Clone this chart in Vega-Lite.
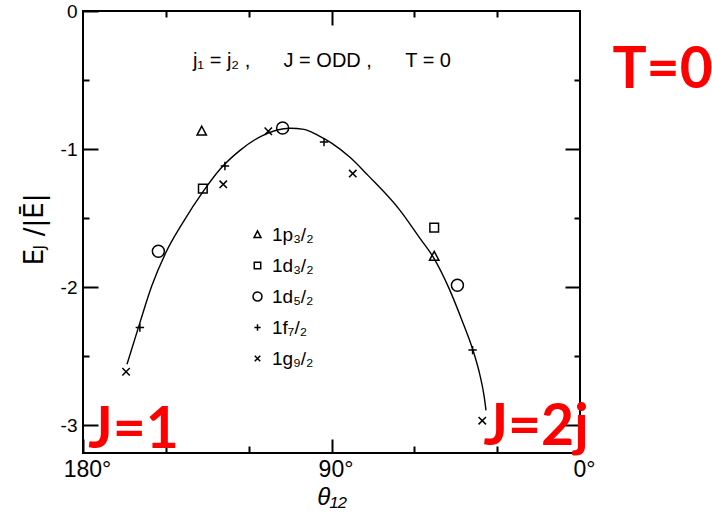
{
  "$schema": "https://vega.github.io/schema/vega-lite/v6.json",
  "autosize": "none",
  "width": 497,
  "height": 442,
  "padding": {"left": 83, "top": 11, "right": 132, "bottom": 63},
  "background": "white",
  "config": {
    "view": {"stroke": "black", "strokeWidth": 2},
    "axis": {
      "domain": false,
      "grid": false,
      "labelFlush": false,
      "tickColor": "black",
      "tickWidth": 2,
      "labelColor": "black",
      "labelFont": "Liberation Sans",
      "titleColor": "black",
      "titleFont": "Liberation Sans",
      "titleFontWeight": "normal"
    },
    "text": {"font": "Liberation Sans", "color": "black"}
  },
  "datasets": {
    "curve": [
      {"theta": 164.06, "E": -2.558},
      {"theta": 159.36, "E": -2.254},
      {"theta": 155.01, "E": -1.986},
      {"theta": 149.94, "E": -1.747},
      {"theta": 143.78, "E": -1.530},
      {"theta": 136.53, "E": -1.308},
      {"theta": 130.38, "E": -1.146},
      {"theta": 123.14, "E": -1.009},
      {"theta": 114.81, "E": -0.900},
      {"theta": 105.03, "E": -0.849},
      {"theta": 99.96, "E": -0.857},
      {"theta": 94.89, "E": -0.900},
      {"theta": 89.82, "E": -0.958},
      {"theta": 83.30, "E": -1.059},
      {"theta": 76.78, "E": -1.190},
      {"theta": 65.19, "E": -1.443},
      {"theta": 57.95, "E": -1.646},
      {"theta": 52.88, "E": -1.791},
      {"theta": 47.44, "E": -2.008},
      {"theta": 42.73, "E": -2.240},
      {"theta": 38.75, "E": -2.457},
      {"theta": 36.22, "E": -2.638},
      {"theta": 34.77, "E": -2.783},
      {"theta": 34.04, "E": -2.891}
    ],
    "levels": [
      {"orbit": "1p₃/₂", "theta": 137.0, "E": -0.869},
      {"orbit": "1p₃/₂", "theta": 52.8, "E": -1.775},
      {"orbit": "1d₃/₂", "theta": 136.6, "E": -1.286},
      {"orbit": "1d₃/₂", "theta": 52.8, "E": -1.568},
      {"orbit": "1d₅/₂", "theta": 152.7, "E": -1.739},
      {"orbit": "1d₅/₂", "theta": 107.7, "E": -0.847},
      {"orbit": "1d₅/₂", "theta": 44.4, "E": -1.985},
      {"orbit": "1f₇/₂", "theta": 159.4, "E": -2.291},
      {"orbit": "1f₇/₂", "theta": 128.6, "E": -1.122},
      {"orbit": "1f₇/₂", "theta": 92.7, "E": -0.949},
      {"orbit": "1f₇/₂", "theta": 38.9, "E": -2.455},
      {"orbit": "1g₉/₂", "theta": 164.4, "E": -2.612},
      {"orbit": "1g₉/₂", "theta": 129.2, "E": -1.255},
      {"orbit": "1g₉/₂", "theta": 112.9, "E": -0.871},
      {"orbit": "1g₉/₂", "theta": 82.3, "E": -1.177},
      {"orbit": "1g₉/₂", "theta": 35.4, "E": -2.966}
    ]
  },
  "resolve": {"axis": {"x": "independent", "y": "independent"}},
  "layer": [
    {
      "data": {"name": "curve"},
      "mark": {"type": "line", "interpolate": "monotone", "color": "black", "strokeWidth": 1.4},
      "encoding": {
        "x": {
          "field": "theta", "type": "quantitative",
          "scale": {"domain": [0, 180], "reverse": true, "nice": false, "zero": false},
          "axis": {
            "orient": "bottom", "values": [180, 90, 0], "tickSize": -14,
            "labelFontSize": 23, "labelPadding": 19, "labelOffset": 4,
            "labelExpr": "datum.value + '°'",
            "title": "θ₁₂", "titleFontSize": 24, "titleFontStyle": "italic", "titlePadding": 4
          }
        },
        "y": {
          "field": "E", "type": "quantitative",
          "scale": {"domain": [-3.2, 0], "nice": false, "zero": false},
          "axis": {
            "orient": "left", "values": [0, -1, -2, -3], "tickSize": -15,
            "labelFontSize": 19, "labelPadding": 21, "labelBaseline": "middle",
            "labelExpr": "datum.value === 0 ? '0' : '-' + (-datum.value)",
            "title": null
          }
        },
        "order": {"field": "theta", "sort": "descending"}
      }
    },
    {
      "data": {"name": "levels"},
      "mark": {"type": "point", "filled": false, "color": "black", "strokeWidth": 1.5, "size": 144, "opacity": 1},
      "encoding": {
        "x": {
          "field": "theta", "type": "quantitative",
          "axis": {"orient": "bottom", "values": [150, 120, 60, 30], "tickSize": -7, "labels": false, "title": null}
        },
        "y": {
          "field": "E", "type": "quantitative",
          "axis": {"orient": "left", "values": [-0.5, -1.5, -2.5], "tickSize": -6, "labels": false, "title": null}
        },
        "shape": {
          "field": "orbit", "type": "nominal",
          "scale": {
            "domain": ["1p₃/₂", "1d₃/₂", "1d₅/₂", "1f₇/₂", "1g₉/₂"],
            "range": [
              "M0,-0.8L0.78,0.68L-0.78,0.68Z",
              "M-0.72,-0.72L0.72,-0.72L0.72,0.72L-0.72,0.72Z",
              "M1,0A1,1,0,1,1,-1,0A1,1,0,1,1,1,0Z",
              "M-0.7,0L0.7,0M0,-0.7L0,0.7",
              "M-0.62,-0.62L0.62,0.62M-0.62,0.62L0.62,-0.62"
            ]
          },
          "legend": {
            "orient": "none", "legendX": 165, "legendY": 214, "title": null,
            "padding": 0, "rowPadding": 11, "labelOffset": 5,
            "symbolSize": 80, "symbolStrokeWidth": 1.5, "symbolStrokeColor": "black",
            "labelFont": "Liberation Sans", "labelFontSize": 19, "labelColor": "black"
          }
        }
      }
    },
    {
      "data": {"values": [{}]},
      "mark": {"type": "text", "fontSize": 20, "align": "left", "baseline": "alphabetic"},
      "encoding": {
        "x": {"datum": 140.2, "type": "quantitative",
              "axis": {"orient": "top", "values": [90], "tickSize": -14, "labels": false, "title": null}},
        "y": {"datum": -0.409, "type": "quantitative",
              "axis": {"orient": "right", "values": [-1, -2, -3], "tickSize": -15, "labels": false, "title": null}},
        "text": {"value": "j\u2081 = j\u2082 ,\u00a0\u00a0\u00a0\u00a0\u00a0\u00a0J = ODD ,\u00a0\u00a0\u00a0\u00a0\u00a0\u00a0T = 0"}
      }
    },
    {
      "data": {"values": [{}]},
      "mark": {"type": "text", "fontSize": 26, "font": "DejaVu Sans", "angle": 270, "align": "left", "baseline": "alphabetic"},
      "encoding": {
        "x": {"datum": 194.5, "type": "quantitative",
              "axis": {"orient": "top", "values": [150, 120, 60, 30], "tickSize": -6, "labels": false, "title": null}},
        "y": {"datum": -1.84, "type": "quantitative",
              "axis": {"orient": "right", "values": [-0.5, -1.5, -2.5], "tickSize": -6, "labels": false, "title": null}},
        "text": {"value": "E"}
      }
    },
    {
      "data": {"values": [{}]},
      "mark": {"type": "text", "fontSize": 15, "font": "DejaVu Sans", "angle": 270, "align": "left", "baseline": "alphabetic"},
      "encoding": {
        "x": {"datum": 193.6, "type": "quantitative", "axis": null},
        "y": {"datum": -1.727, "type": "quantitative", "axis": null},
        "text": {"value": "J"}
      }
    },
    {
      "data": {"values": [{}]},
      "mark": {"type": "text", "fontSize": 26, "font": "DejaVu Sans", "angle": 270, "align": "left", "baseline": "alphabetic"},
      "encoding": {
        "x": {"datum": 194.5, "type": "quantitative", "axis": null},
        "y": {"datum": -1.631, "type": "quantitative", "axis": null},
        "text": {"value": "/|Ē|"}
      }
    },
    {
      "data": {"values": [{}]},
      "mark": {"type": "text", "fontSize": 57, "font": "Lato", "fontWeight": "bold", "color": "#ff0000", "align": "center", "baseline": "alphabetic"},
      "encoding": {
        "x": {"datum": -29.9, "type": "quantitative", "axis": null},
        "y": {"datum": -0.56, "type": "quantitative", "axis": null},
        "text": {"value": "T=0"}
      }
    },
    {
      "data": {"values": [{}]},
      "mark": {"type": "text", "fontSize": 57, "font": "Lato", "fontWeight": "bold", "color": "#ff0000", "align": "center", "baseline": "alphabetic"},
      "encoding": {
        "x": {"datum": 161.7, "type": "quantitative", "axis": null},
        "y": {"datum": -3.163, "type": "quantitative", "axis": null},
        "text": {"value": "J=1"}
      }
    },
    {
      "data": {"values": [{}]},
      "mark": {"type": "text", "fontSize": 57, "font": "Lato", "fontWeight": "bold", "color": "#ff0000", "align": "center", "baseline": "alphabetic"},
      "encoding": {
        "x": {"datum": 15.9, "type": "quantitative", "axis": null},
        "y": {"datum": -3.142, "type": "quantitative", "axis": null},
        "text": {"value": "J=2j"}
      }
    }
  ]
}
